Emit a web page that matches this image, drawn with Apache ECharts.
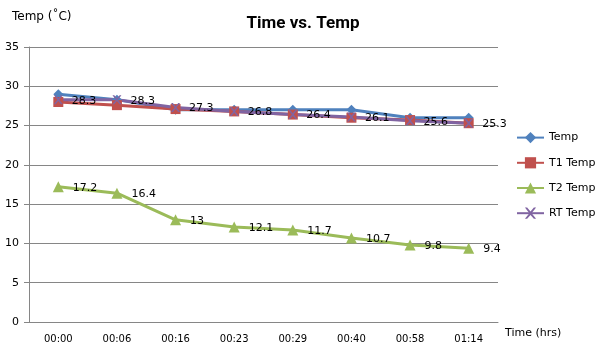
<!DOCTYPE html>
<html>
<head>
<meta charset="utf-8">
<script src="https://cdn.jsdelivr.net/npm/echarts@6/dist/echarts.min.js"></script>
<style>
  html, body { margin: 0; padding: 0; background: #fff; }
  #chart { width: 606px; height: 352px; }
</style>
</head>
<body>
<div id="chart"></div>
<script>
// data
const times = ["00:00", "00:06", "00:16", "00:23", "00:29", "00:40", "00:58", "01:14"];
const temp = [29, 28.3, 27, 27, 27, 27, 26, 26];
const t1Temp = [28, 27.6, 27.1, 26.8, 26.4, 26.0, 25.7, 25.3];
const t2Temp = [17.2, 16.4, 13, 12.1, 11.7, 10.7, 9.8, 9.4];
const rtTemp = [28.3, 28.3, 27.3, 26.8, 26.4, 26.1, 25.6, 25.3];

const font = "DejaVu Sans";
const crossPath = "path://M0,0L2,0L5,3.5L8,0L10,0L6,5L10,10L8,10L5,6.5L2,10L0,10L4,5Z";

let myChart = echarts.init(document.getElementById("chart"));

// 数据标签
const dataLabel = {
  show: true,
  position: "right",
  distance: 9,
  offset: [0, 1],
  color: "#000",
  fontFamily: font,
  fontSize: 11,
};

myChart.setOption({
  animation: false,
  textStyle: { fontFamily: font },
  title: {
    text: "Time vs. Temp",
    left: 298,
    top: 10,
    textAlign: "center",
    textStyle: { fontFamily: "Roboto", fontSize: 17, fontWeight: "bold", color: "#000" },
  },
  graphic: [
    { type: "text", left: 12, top: 11, style: { text: "Temp (˚C)", fontFamily: font, fontSize: 12, fill: "#000" } },
    { type: "text", left: 505, top: 328, style: { text: "Time (hrs)", fontFamily: font, fontSize: 11, fill: "#000" } },
  ],
  legend: {
    orient: "vertical",
    left: 516,
    top: 132,
    padding: 0,
    itemGap: 14,
    itemWidth: 27,
    itemHeight: 14,
    textStyle: { fontFamily: font, fontSize: 11, color: "#000" },
    data: ["Temp", "T1 Temp", "T2 Temp", "RT Temp"],
  },
  grid: { left: 29, right: 108, top: 47, bottom: 30 },
  xAxis: {
    type: "category",
    data: times,
    boundaryGap: true,
    axisLine: { lineStyle: { color: "#868686", width: 1 } },
    axisTick: { inside: true, length: 5, lineStyle: { color: "#868686" } },
    axisLabel: { color: "#000", fontFamily: font, fontSize: 10, margin: 12 },
  },
  yAxis: {
    type: "value",
    min: 0,
    max: 35,
    interval: 5,
    axisLine: { show: true, lineStyle: { color: "#868686", width: 1 } },
    axisTick: { show: true, length: 5, lineStyle: { color: "#868686" } },
    axisLabel: { color: "#000", fontFamily: font, fontSize: 11, margin: 10 },
    splitLine: { lineStyle: { color: "#868686", width: 1 } },
  },
  series: [
    {
      name: "Temp",
      type: "line",
      data: temp,
      symbol: "diamond",
      symbolSize: 10,
      lineStyle: { width: 3, color: "#4F81BD" },
      itemStyle: { color: "#4F81BD" },
    },
    {
      name: "T1 Temp",
      type: "line",
      data: t1Temp,
      symbol: "rect",
      symbolSize: 10,
      lineStyle: { width: 3, color: "#C0504D" },
      itemStyle: { color: "#C0504D" },
    },
    {
      name: "T2 Temp",
      type: "line",
      data: t2Temp,
      symbol: "triangle",
      symbolSize: 11,
      lineStyle: { width: 3, color: "#9BBB59" },
      itemStyle: { color: "#9BBB59" },
      label: dataLabel,
    },
    {
      name: "RT Temp",
      type: "line",
      data: rtTemp,
      symbol: crossPath,
      symbolSize: 9,
      lineStyle: { width: 3, color: "#8064A2" },
      itemStyle: { color: "#8064A2" },
      label: dataLabel,
    },
  ],
});
</script>
</body>
</html>
